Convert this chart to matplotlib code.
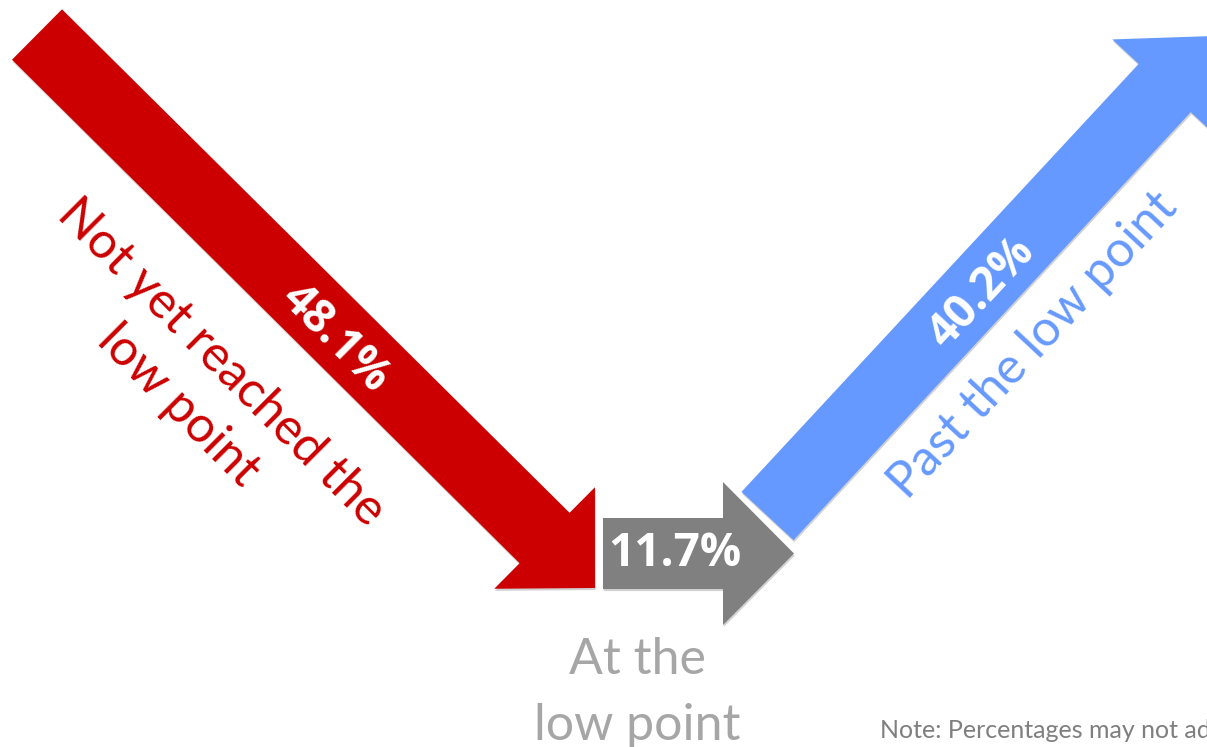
import matplotlib.pyplot as plt
from matplotlib.patches import FancyArrow
import matplotlib.patheffects as pe

plt.rcParams['font.family'] = ['Lato', 'DejaVu Sans']

# data
stages = ['Not yet reached the\nlow point', 'At the\nlow point', 'Past the low point']
shares = [48.1, 11.7, 40.2]
colors = ['#CC0000', '#808080', '#6699FF']
note = 'Note: Percentages may not add up to 100% due to rounding.'

W, H = 1207, 747
fig = plt.figure(figsize=(W / 100, H / 100), dpi=100)
ax = fig.add_axes([0, 0, 1, 1])
ax.set_xlim(0, W)
ax.set_ylim(H, 0)
ax.axis('off')

shadow = [pe.SimplePatchShadow(offset=(0.5, -1.5), shadow_rgbFace='#000000', alpha=0.18), pe.Normal()]

# arrows: (tail x, tail y, tip x, tip y)
arrows = [(37, 34.5, 595, 588), (603, 553.5, 794, 553.5), (767.5, 516, 1213, 36)]
for (x0, y0, x1, y1), c in zip(arrows, colors):
    a = FancyArrow(x0, y0, x1 - x0, y1 - y0, width=71, head_width=143, head_length=71,
                   length_includes_head=True, color=c, lw=0)
    a.set_path_effects(shadow)
    ax.add_patch(a)

# percentage labels on arrows
pct = dict(color='white', fontsize=33, fontweight='bold', family=['Open Sans', 'DejaVu Sans'])
ax.text(335, 338, f'{shares[0]}%', rotation=-45, rotation_mode='anchor',
        ha='center', va='center', **pct)
ax.text(675, 553, f'{shares[1]}%', ha='center', va='center', **pct)
ax.text(981, 293, f'{shares[2]}%', rotation=47, rotation_mode='anchor',
        ha='center', va='center', **pct)

# stage labels
ax.text(200, 384, stages[0], color=colors[0], fontsize=36, rotation=-45,
        rotation_mode='anchor', ha='center', va='center', linespacing=1.4)
ax.text(637, 693, stages[1], color='#A6A6A6', fontsize=36,
        ha='center', va='center', linespacing=1.55)
ax.text(1033, 345, stages[2], color=colors[2], fontsize=36, rotation=47,
        rotation_mode='anchor', ha='center', va='center')

ax.text(880, 738, note, color='#7F7F7F', fontsize=18, ha='left', va='baseline')

fig.savefig('out.png', dpi=100)
